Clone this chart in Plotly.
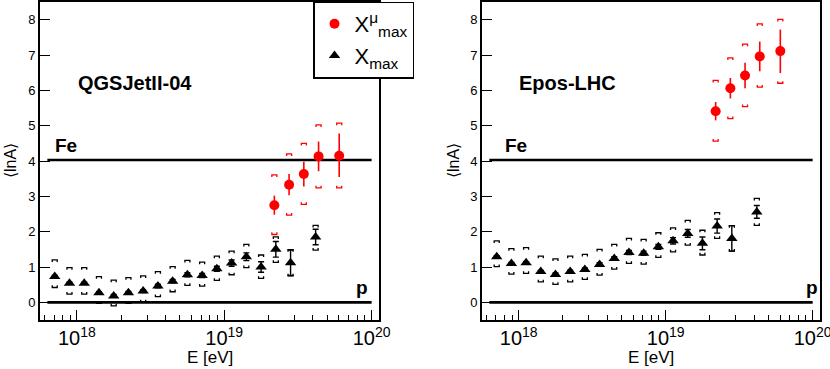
import numpy as np
import plotly.graph_objects as go

# energy bins (log10 E/eV)
lgE_xmax = [17.85, 17.95, 18.05, 18.15, 18.25, 18.35, 18.45, 18.55, 18.65,
            18.75, 18.85, 18.95, 19.05, 19.15, 19.25, 19.35, 19.45, 19.62]
lgE_mu = [19.34, 19.44, 19.54, 19.64, 19.78]

# QGSJetII-04
qgs_xmax = [0.73, 0.54, 0.54, 0.27, 0.18, 0.27, 0.32, 0.46, 0.60,
            0.78, 0.76, 0.95, 1.11, 1.29, 1.00, 1.50, 1.12, 1.85]
qgs_xmax_stat = [0.03, 0.03, 0.03, 0.03, 0.04, 0.04, 0.04, 0.05, 0.05,
                 0.06, 0.06, 0.07, 0.09, 0.11, 0.15, 0.22, 0.36, 0.22]
qgs_xmax_syshi = [1.20, 0.98, 0.98, 0.73, 0.63, 0.70, 0.75, 0.87, 1.01,
                  1.19, 1.14, 1.31, 1.45, 1.64, 1.34, 1.85, 1.49, 2.18]
qgs_xmax_syslo = [0.42, 0.23, 0.23, -0.03, -0.10, -0.03, 0.01, 0.16, 0.30,
                  0.48, 0.46, 0.62, 0.78, 0.98, 0.68, 1.13, 0.75, 1.48]
qgs_mu = [2.75, 3.33, 3.63, 4.13, 4.15]
qgs_mu_stat_up = [0.27, 0.30, 0.35, 0.42, 0.63]
qgs_mu_stat_dn = [0.27, 0.30, 0.35, 0.42, 0.60]
qgs_mu_syshi = [3.61, 4.20, 4.50, 5.02, 5.07]
qgs_mu_syslo = [1.92, 2.47, 2.77, 3.24, 3.24]

# Epos-LHC
epos_xmax = [1.29, 1.10, 1.12, 0.87, 0.79, 0.87, 0.93, 1.07, 1.24,
             1.41, 1.39, 1.57, 1.74, 1.95, 1.67, 2.16, 1.81, 2.56]
epos_xmax_stat = [0.03, 0.03, 0.03, 0.03, 0.04, 0.04, 0.04, 0.05, 0.05,
                  0.06, 0.06, 0.07, 0.09, 0.11, 0.18, 0.20, 0.36, 0.18]
epos_xmax_syshi = [1.74, 1.52, 1.55, 1.31, 1.23, 1.31, 1.36, 1.50, 1.64,
                   1.81, 1.78, 1.97, 2.11, 2.32, 2.04, 2.54, 2.17, 2.94]
epos_xmax_syslo = [1.01, 0.80, 0.82, 0.58, 0.51, 0.58, 0.65, 0.77, 0.94,
                   1.10, 1.08, 1.27, 1.43, 1.62, 1.34, 1.81, 1.45, 2.18]
epos_mu = [5.41, 6.06, 6.42, 6.96, 7.11]
epos_mu_stat_up = [0.26, 0.29, 0.36, 0.42, 0.61]
epos_mu_stat_dn = [0.26, 0.29, 0.36, 0.42, 0.62]
epos_mu_syshi = [6.28, 6.92, 7.31, 7.88, 8.01]
epos_mu_syslo = [4.56, 5.20, 5.54, 6.09, 6.20]

# reference lines: lnA of proton and iron
ref_names = ["p", "Fe"]
ref_lnA = [0.0, 4.03]
ref_lgE = [17.8, 20.0]

W, H = 830, 369
FONT = "Liberation Sans, Arial, sans-serif"
RED = "#ff0000"


def brackets(lgE, hi, lo, w=0.017, h=0.06):
    # ROOT-style "[ ]" systematic brackets, built in data coordinates
    xs, ys = [], []
    for e, u, d in zip(lgE, hi, lo):
        x0, x1 = 10 ** (e - w), 10 ** (e + w)
        xs += [x0, x0, x1, x1, None, x0, x0, x1, x1, None]
        ys += [u - h, u, u, u - h, None, d + h, d, d, d + h, None]
    return xs, ys


fig = go.Figure()

panels = [
    ("x", "y", qgs_xmax, qgs_xmax_stat, qgs_xmax_syshi, qgs_xmax_syslo,
     qgs_mu, qgs_mu_stat_up, qgs_mu_stat_dn, qgs_mu_syshi, qgs_mu_syslo, True),
    ("x2", "y2", epos_xmax, epos_xmax_stat, epos_xmax_syshi, epos_xmax_syslo,
     epos_mu, epos_mu_stat_up, epos_mu_stat_dn, epos_mu_syshi, epos_mu_syslo, False),
]

for xa, ya, xm, xms, xhi, xlo, mu, muu, mud, mhi, mlo, leg in panels:
    # p and Fe lines
    for v in ref_lnA:
        fig.add_trace(go.Scatter(x=[10 ** e for e in ref_lgE], y=[v, v], mode="lines",
                                 line=dict(color="black", width=2.6), showlegend=False,
                                 hoverinfo="skip", xaxis=xa, yaxis=ya))
    bx, by = brackets(lgE_xmax, xhi, xlo)
    fig.add_trace(go.Scatter(x=bx, y=by, mode="lines", line=dict(color="black", width=1.3),
                             showlegend=False, hoverinfo="skip", xaxis=xa, yaxis=ya))
    bx, by = brackets(lgE_mu, mhi, mlo)
    fig.add_trace(go.Scatter(x=bx, y=by, mode="lines", line=dict(color=RED, width=1.3),
                             showlegend=False, hoverinfo="skip", xaxis=xa, yaxis=ya))
    fig.add_trace(go.Scatter(
        x=[10 ** e for e in lgE_mu], y=mu, mode="markers", name="X<sup>μ</sup><sub>max</sub>",
        marker=dict(symbol="circle", size=10, color=RED),
        error_y=dict(type="data", array=muu, arrayminus=mud, color=RED, thickness=1.6, width=0),
        showlegend=leg, legendgroup="mu", xaxis=xa, yaxis=ya))
    fig.add_trace(go.Scatter(
        x=[10 ** e for e in lgE_xmax], y=xm, mode="markers", name="X<sub>max</sub>",
        marker=dict(symbol="triangle-up", size=10, color="black"),
        error_y=dict(type="data", array=xms, color="black", thickness=1.4, width=3),
        showlegend=leg, legendgroup="xmax", xaxis=xa, yaxis=ya))

ydom = [(H - 320) / H, (H - 2) / H]
xax = dict(type="log", range=[17.75, 20.05], dtick=1, exponentformat="power",
           ticks="inside", ticklen=10, tickwidth=1.3, tickcolor="black",
           minor=dict(ticks="inside", ticklen=5, dtick="D1", tickwidth=1.3, tickcolor="black"),
           showline=True, mirror=True, linewidth=1.6, linecolor="black",
           showgrid=False, zeroline=False, automargin=False, ticklabeloverflow="allow",
           tickfont=dict(size=16, family=FONT, color="black"))
yax = dict(range=[-0.5, 8.5], dtick=1, ticks="inside", ticklen=10, tickwidth=1.3,
           tickcolor="black", showline=True, mirror=True, linewidth=1.6, linecolor="black",
           showgrid=False, zeroline=False, automargin=False,
           tickfont=dict(size=13, family=FONT, color="black"))

fig.update_layout(
    width=W, height=H, margin=dict(l=0, r=0, t=0, b=0),
    paper_bgcolor="white", plot_bgcolor="white",
    font=dict(family=FONT, color="black"),
    xaxis=dict(xax, domain=[40 / W, 379 / W], anchor="y"),
    yaxis=dict(yax, domain=ydom, anchor="x"),
    xaxis2=dict(xax, domain=[482 / W, 820 / W], anchor="y2"),
    yaxis2=dict(yax, domain=ydom, anchor="x2"),
    legend=dict(x=313 / W, y=1 - 1.5 / H, xanchor="left", yanchor="top",
                bgcolor="white", bordercolor="black", borderwidth=1.5,
                font=dict(size=22, family=FONT), tracegroupgap=0),
    showlegend=True,
)


def label(text, px, py, size, bold=False, angle=0):
    fig.add_annotation(text=f"<b>{text}</b>" if bold else text, x=px / W, y=1 - py / H,
                       xref="paper", yref="paper", showarrow=False, textangle=angle,
                       font=dict(size=size, family=FONT, color="black"),
                       xanchor="center", yanchor="middle")


label("QGSJetII-04", 134.5, 83, 20, bold=True)
label("Epos-LHC", 567, 83, 20, bold=True)
for off in [0, 450]:
    label("Fe", 66 + off, 145, 19, bold=True)
    label("p", 362 + off, 287, 19, bold=True)
label("E [eV]", 209.5, 357, 17)
label("E [eV]", 651, 357, 17)
label("⟨lnA⟩", 10, 161, 16, angle=-90)
label("⟨lnA⟩", 453, 161, 16, angle=-90)

fig.write_html("out.html", config={"displayModeBar": False},
               post_script="document.body.style.margin='0';"
               "document.body.style.overflow='hidden';")
